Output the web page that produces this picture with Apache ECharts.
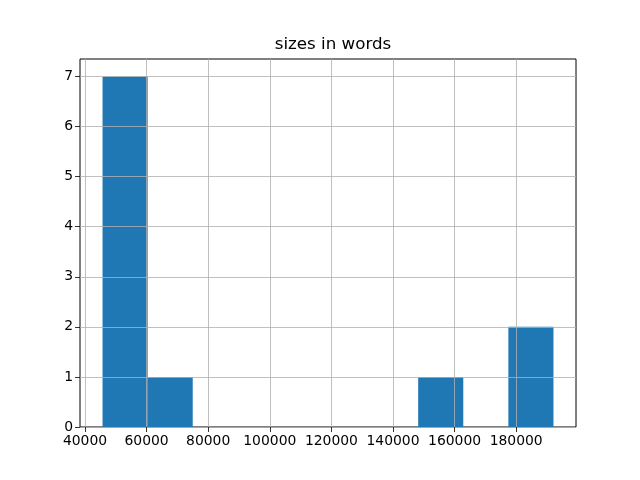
<!DOCTYPE html>
<html>
<head>
<meta charset="utf-8">
<script src="https://cdn.jsdelivr.net/npm/echarts@6/dist/echarts.min.js"></script>
<style>
  html, body { margin: 0; padding: 0; background: #fff; }
  #chart { width: 640px; height: 480px; }
</style>
</head>
<body>
<div id="chart"></div>
<script>
// histogram bin edges and counts per bin
const binEdges = [45700, 60340, 74980, 89620, 104260, 118900, 133540, 148180, 162820, 177460, 192100];
const binCounts = [7, 1, 0, 0, 0, 0, 0, 1, 0, 2];
const xTicks = [40000, 60000, 80000, 100000, 120000, 140000, 160000, 180000];
const yTicks = [0, 1, 2, 3, 4, 5, 6, 7];
const titleText = 'sizes in words';

const font = 'DejaVu Sans';

// one item per bin: [left edge, right edge, count]
const bars = binCounts.map((c, i) => [binEdges[i], binEdges[i + 1], c]);

const gridLine = { show: true, lineStyle: { color: '#b0b0b0', width: 0.8 } };

const option = {
  animation: false,
  title: {
    text: titleText,
    left: 328,
    top: 31,
    textAlign: 'center',
    textStyle: { fontFamily: font, fontSize: 16.7, fontWeight: 'normal', color: '#000' }
  },
  grid: {
    left: 80, right: 64, top: 59, bottom: 53,
    show: true, borderColor: '#000', borderWidth: 1, backgroundColor: 'transparent'
  },
  xAxis: {
    type: 'value',
    min: 38380,
    max: 199420,
    z: 5,
    axisLine: { show: false },
    axisTick: { show: true, length: 5, lineStyle: { color: '#000', width: 0.8 }, customValues: xTicks },
    axisLabel: {
      color: '#000', fontFamily: font, fontSize: 13.9, margin: 7,
      customValues: xTicks,
      formatter: v => String(v)
    },
    splitLine: gridLine
  },
  yAxis: {
    type: 'value',
    min: 0,
    max: 7.35,
    z: 5,
    axisLine: { show: false },
    axisTick: { show: true, length: 5, lineStyle: { color: '#000', width: 0.8 }, customValues: yTicks },
    axisLabel: {
      color: '#000', fontFamily: font, fontSize: 13.9, margin: 7,
      customValues: yTicks,
      formatter: v => String(v)
    },
    splitLine: gridLine
  },
  series: [{
    type: 'custom',
    z: 1,
    data: bars,
    encode: { x: [0, 1], y: 2 },
    renderItem: (params, api) => {
      const p0 = api.coord([api.value(0), api.value(2)]);
      const p1 = api.coord([api.value(1), 0]);
      return {
        type: 'rect',
        shape: { x: p0[0], y: p0[1], width: p1[0] - p0[0], height: p1[1] - p0[1] },
        style: { fill: '#1f77b4' }
      };
    }
  }]
};

const chart = echarts.init(document.getElementById('chart'));
chart.setOption(option);
</script>
</body>
</html>
